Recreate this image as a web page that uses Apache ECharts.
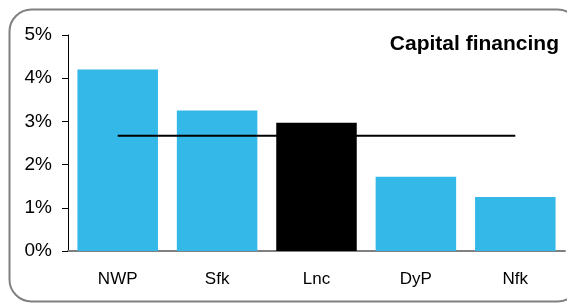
<!DOCTYPE html>
<html><head><meta charset="utf-8">
<script src="https://cdn.jsdelivr.net/npm/echarts@6/dist/echarts.min.js"></script>
<style>html,body{margin:0;padding:0;background:#fff}#c{width:567px;height:304px}</style>
</head><body><div id="c"></div>
<script>
const categories = ['NWP', 'Sfk', 'Lnc', 'DyP', 'Nfk'];
const values = [4.2, 3.25, 2.97, 1.72, 1.25];
const average = [2.67, 2.67, 2.67, 2.67, 2.67];
const highlight = 'Lnc';
const yTicks = [0, 1, 2, 3, 4, 5];

const chart = echarts.init(document.getElementById('c'));
chart.setOption({
  animation: false,
  graphic: [{
    type: 'rect', left: 7, top: 7,
    shape: { width: 570, height: 292, r: 22 },
    style: { fill: 'none', stroke: '#808080', lineWidth: 2 }, z: 100
  }, {
    type: 'text', right: 8, top: 34,
    style: { text: 'Capital financing', fill: '#000', font: 'bold 21px "Liberation Sans", Arial, sans-serif', textAlign: 'right' }
  }],
  grid: { left: 68, right: 2, top: 35, bottom: 53, containLabel: false },
  xAxis: {
    type: 'category', data: categories,
    axisLine: { lineStyle: { color: '#808080', width: 2 } },
    axisTick: { show: false },
    axisLabel: { color: '#000', fontSize: 17, fontFamily: '"Liberation Sans", Arial, sans-serif', margin: 20 }
  },
  yAxis: {
    type: 'value', min: 0, max: 5, interval: 1,
    axisLine: { show: true, lineStyle: { color: '#000', width: 1 } },
    axisTick: { show: true, length: 6, lineStyle: { color: '#000' } },
    splitLine: { show: false },
    axisLabel: { color: '#000', fontSize: 19, fontFamily: '"Liberation Sans", Arial, sans-serif', margin: 16,
      formatter: v => yTicks.includes(v) ? v + '%' : '' }
  },
  series: [{
    type: 'bar', barCategoryGap: '19%',
    data: categories.map((c, i) => ({ value: values[i], itemStyle: { color: c === highlight ? '#000' : '#33b8e8' } }))
  }, {
    type: 'line', data: average, symbol: 'none', z: 5,
    lineStyle: { color: '#000', width: 2 }
  }]
});
</script></body></html>
